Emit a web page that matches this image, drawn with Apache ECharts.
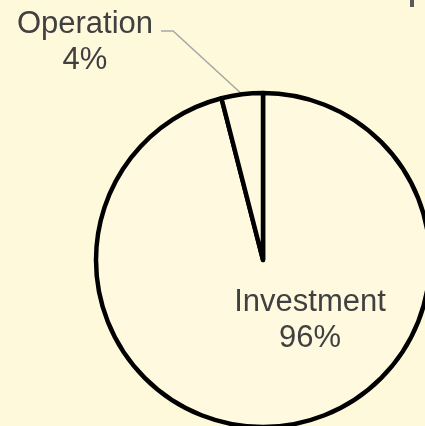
<!DOCTYPE html>
<html>
<head>
<meta charset="utf-8">
<script src="https://cdn.jsdelivr.net/npm/echarts@6/dist/echarts.min.js"></script>
<style>
html, body { margin: 0; padding: 0; background: #FFF9DC; }
#main { width: 425px; height: 426px; }
</style>
</head>
<body>
<div id="main"></div>
<script>
var categories = ['Investment', 'Operation'];
var values = [96, 4];
var labelSpots = [[310, 320], [85, 42]];

var myChart = echarts.init(document.getElementById('main'));

var data = [];
for (var i = 0; i < categories.length; i++) {
	data.push({ name: categories[i], value: values[i] });
}
// the small piece at upper right is what is left of a cut title
var option = {
	backgroundColor: '#FFF9DC',
	animation: false,
	graphic: [{
		type: 'rect',
		shape: { x: 410, y: 0, width: 4, height: 7 },
		style: { fill: '#5a5a5a' }
	}],
	series: [{
		type: 'pie',
		center: [263, 260],
		radius: 167,
		startAngle: 90,
		clockwise: true,
		data: data,
		itemStyle: {
			color: '#FFFADF',
			borderColor: '#000',
			borderWidth: 4.5
		},
		label: {
			show: true,
			position: 'outside',
			formatter: '{b}\n{d}%',
			fontFamily: 'Liberation Sans, Arial',
			fontSize: 31,
			lineHeight: 36,
			color: '#404040',
			align: 'center',
			overflow: 'none'
		},
		labelLine: {
			show: true,
			lineStyle: { color: '#A6A6A6', width: 1.5 }
		},
		labelLayout: function (params) {
			var p = labelSpots[params.dataIndex];
			var out = { x: p[0], y: p[1], align: 'center', verticalAlign: 'middle' };
			if (params.labelLinePoints) {
				// leader starts on the slice edge, ends beside the first text line
				var edge = params.labelLinePoints[0];
				var right = p[0] + params.labelRect.width / 2 + 8;
				var top = p[1] - 11;
				out.labelLinePoints = [edge, [right + 12, top], [right, top]];
			}
			return out;
		},
		emphasis: { disabled: true }
	}]
};
option.series[0].data[0].labelLine = { show: false };
myChart.setOption(option);
</script>
</body>
</html>
